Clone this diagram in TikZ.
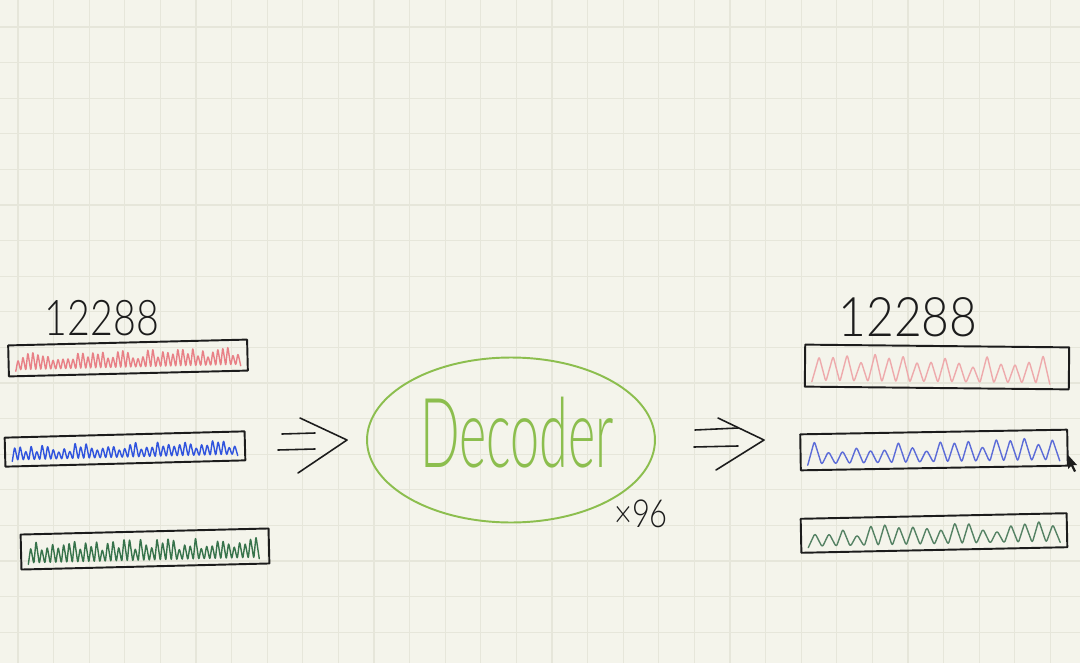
\documentclass[tikz,border=0pt]{standalone}
\usepackage{fontspec}
\setmainfont{Lato}[UprightFont={* Light}]
\usetikzlibrary{calc,shapes.geometric}
\definecolor{paper}{RGB}{244,244,235}
\definecolor{gridline}{RGB}{230,230,218}
\definecolor{inkDark}{RGB}{28,28,28}
\definecolor{decGreen}{RGB}{140,190,78}
\definecolor{pinkInk}{RGB}{232,128,134}
\definecolor{pinkSoft}{RGB}{238,170,172}
\definecolor{blueInk}{RGB}{48,84,222}
\definecolor{blueSoft}{RGB}{92,108,216}
\definecolor{greenInk}{RGB}{55,115,75}
\definecolor{greenSoft}{RGB}{85,130,100}

% box with a scribble in it: name, x, y, width, height (px), angle, colour, step
\newcommand{\sketchbar}[8]{%
  \begin{scope}[shift={(#2,#3)}, rotate=#6]
    \node[bar, transform shape, minimum width=#4*0.02cm, minimum height=#5*0.02cm] (#1) at (0,0) {};
    \pgfmathtruncatemacro{\nk}{(#4-14)/#8}
    \draw[scrib, #7] ({-#4/2+7},{#5/2-5})
      \foreach \k in {1,...,\nk}{
        -- ({-#4/2+7+(\k-0.5)*#8},{#5/2-5-(0.5+0.45*rnd)*(#5-10)})
        -- ({-#4/2+7+\k*#8},{#5/2-5})};
  \end{scope}}

\begin{document}
\begin{tikzpicture}[x=0.02cm, y=-0.02cm, line cap=round, line join=round,
    bar/.style={draw=inkDark, line width=1.1pt, inner sep=0pt},
    scrib/.style={line width=0.8pt, rounded corners=1.5pt},
    num/.style={text=inkDark, anchor=base, inner sep=0pt},
    sign/.style={draw=inkDark, line width=0.9pt}]
  \pgfmathsetseed{7}
  \fill[paper] (0,0) rectangle (1080,663);
  \useasboundingbox (0,0) rectangle (1080,663);
  % paper grid
  \foreach \i in {0,...,29}
    \draw[gridline, line width=0.6pt] ({18+\i*35.6},0) -- ({18+\i*35.6},663);
  \foreach \j in {0,...,17}
    \draw[gridline, line width=0.6pt] (0,{27+\j*35.6}) -- (1080,{27+\j*35.6});

  % input side
  \node[num, font=\fontsize{28}{30}\selectfont, xscale=0.8] (inSize) at (102,335) {12288};
  \sketchbar{inPink}{128}{358}{239}{31}{1.4}{pinkInk}{5}
  \sketchbar{inBlue}{125}{449}{240}{29}{1.5}{blueInk}{5.5}
  \sketchbar{inGreen}{145}{549}{248}{35}{1.4}{greenInk}{5.5}

  % decoder
  \node[draw=decGreen, ellipse, line width=1.1pt, minimum width=5.76cm,
    minimum height=3.3cm, inner sep=0pt] (decoder) at (511,440) {};
  \node[text=decGreen, anchor=base, inner sep=0pt, xscale=0.78, yscale=1.45,
    font=\fontsize{38}{40}\selectfont] (decText) at (517,467) {Decoder};
  \node[num, font=\fontsize{22}{24}\selectfont, xscale=0.8] (repeat) at (641,527) {×96};

  % output side
  \node[num, font=\fontsize{31}{33}\selectfont, xscale=0.88] (outSize) at (908,336) {12288};
  \sketchbar{outPink}{937}{367}{264}{42}{-0.6}{pinkSoft}{14}
  \sketchbar{outBlue}{934}{450}{267}{36}{1}{blueSoft}{14}
  \sketchbar{outGreen}{934}{533}{266}{34}{1.2}{greenSoft}{14}

  % the two "=>" signs
  \coordinate (lTail) at (278,441);
  \coordinate (lTip) at (347,440);
  \draw[sign] ($(lTail)+(4,-7)$) -- ($(lTail)+(37,-8)$);
  \draw[sign] ($(lTail)+(0,9)$) -- ($(lTail)+(37,8)$);
  \draw[sign] ($(lTip)+(-47,-22)$) -- (lTip) -- ($(lTip)+(-49,33)$);
  \coordinate (rTail) at (694,438);
  \coordinate (rTip) at (764,440);
  \draw[sign] ($(rTail)+(1,-8)$) -- ($(rTail)+(44,-10)$);
  \draw[sign] ($(rTail)+(0,9)$) -- ($(rTail)+(44,8)$);
  \draw[sign] ($(rTip)+(-46,-22)$) -- (rTip) -- ($(rTip)+(-48,30)$);

  % mouse pointer
  \fill[inkDark] (1068,455) -- (1068,469) -- (1071,466) -- (1074,472) -- (1076,471)
    -- (1073,465) -- (1077,465) -- cycle;
\end{tikzpicture}
\end{document}
